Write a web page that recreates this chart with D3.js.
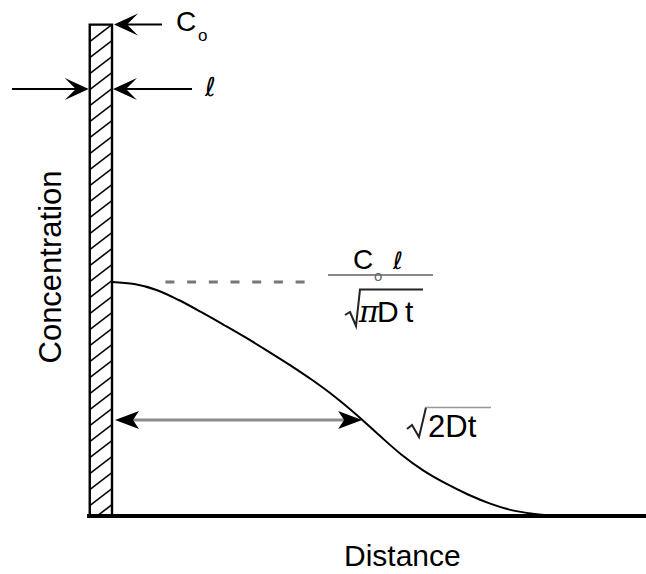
<!DOCTYPE html>
<html><head><meta charset="utf-8">
<script src="https://cdn.jsdelivr.net/npm/d3@7"></script>
<style>body{margin:0;background:#fff}svg{display:block}</style>
</head><body>
<svg id="chart" width="646" height="574"></svg>
<script>
// Thin-film source diffusing into a semi-infinite solid.
// Concentration profile (arbitrary units) against distance from the film.
const distance = [0, 0.5, 1, 1.5, 2, 2.5, 3, 3.5, 4, 4.5, 5, 5.5, 6, 6.5, 7, 7.5, 8, 8.5, 9, 9.5, 10];
const concentration = [1.000, 0.991, 0.966, 0.923, 0.872, 0.818, 0.763, 0.705, 0.645, 0.581, 0.511,
                       0.432, 0.346, 0.263, 0.194, 0.139, 0.092, 0.053, 0.024, 0.009, 0.0];
// Source film: thickness ℓ and initial concentration C0
const filmThickness = [0.5];
const filmConcentration = [2.1];
// Spread marker √(2Dt): distance reached and the level it is drawn at
const spreadDistance = [5.62];
const spreadLevel = [0.41];
// Peak guide line extent (distance)
const peakGuide = [1.2, 4.4];
const axisTitles = ["Distance", "Concentration"];

const svg = d3.select("#chart");
const x = d3.scaleLinear().domain([0, 10]).range([112, 557]);
const y = d3.scaleLinear().domain([0, 1]).range([516, 282]);
const FONT = "'Liberation Sans', Arial, Helvetica, sans-serif";

// arrowhead: tip at (tx,ty), dir = +1 points right, -1 points left
function head(tx, ty, dir, L, W, N) {
  return `M${tx},${ty}L${tx - dir * L},${ty - W}L${tx - dir * N},${ty}L${tx - dir * L},${ty + W}Z`;
}

const filmLeft = x(-filmThickness[0]);
const filmRight = x(0);
const filmTop = y(filmConcentration[0]);
const base = y(0);

// hatched film
svg.append("clipPath").attr("id", "filmClip")
  .append("rect").attr("x", filmLeft).attr("y", filmTop)
  .attr("width", filmRight - filmLeft).attr("height", base - filmTop);
const hatch = svg.append("g").attr("clip-path", "url(#filmClip)");
for (let yy = filmTop - 16; yy < base + 20; yy += 16) {
  hatch.append("line")
    .attr("x1", filmLeft).attr("y1", yy + 17)
    .attr("x2", filmRight).attr("y2", yy)
    .attr("stroke", "#000").attr("stroke-width", 1.6);
}
svg.append("path")
  .attr("d", `M${filmLeft},${base}V${filmTop}H${filmRight}V${base}`)
  .attr("fill", "none").attr("stroke", "#000").attr("stroke-width", 2.4);

// distance axis (baseline)
const xAxis = d3.axisBottom(x).tickValues([]).tickSizeOuter(0);
const ax = svg.append("g").attr("transform", `translate(0,${base})`).call(xAxis);
ax.select(".domain").attr("d", `M${x(-0.56)},0H646`).attr("stroke", "#000").attr("stroke-width", 4);

// concentration profile
const pts = distance.map((d, i) => [d, concentration[i]]);
svg.append("path")
  .datum(pts)
  .attr("d", d3.line().x(d => x(d[0])).y(d => y(d[1])).curve(d3.curveMonotoneX))
  .attr("fill", "none").attr("stroke", "#000").attr("stroke-width", 2);

// peak guide (dashed)
svg.append("line")
  .attr("x1", x(peakGuide[0])).attr("x2", x(peakGuide[1]))
  .attr("y1", y(1)).attr("y2", y(1))
  .attr("stroke", "#777").attr("stroke-width", 3).attr("stroke-dasharray", "9,12.7");

// C0 arrow at film top
svg.append("line").attr("x1", filmRight + 10).attr("x2", 162)
  .attr("y1", filmTop).attr("y2", filmTop).attr("stroke", "#000").attr("stroke-width", 2);
svg.append("path").attr("d", head(filmRight + 2, filmTop, -1, 24, 11, 13)).attr("fill", "#000");

// ℓ arrows across the film
const ly = 89;
svg.append("line").attr("x1", 12).attr("x2", filmLeft - 10)
  .attr("y1", ly).attr("y2", ly).attr("stroke", "#000").attr("stroke-width", 2);
svg.append("path").attr("d", head(filmLeft - 1, ly, 1, 24, 11, 13)).attr("fill", "#000");
svg.append("line").attr("x1", filmRight + 10).attr("x2", 192)
  .attr("y1", ly).attr("y2", ly).attr("stroke", "#000").attr("stroke-width", 2);
svg.append("path").attr("d", head(filmRight + 1, ly, -1, 24, 11, 13)).attr("fill", "#000");

// √(2Dt) double arrow
const sy = y(spreadLevel[0]);
svg.append("line").attr("x1", filmRight + 8).attr("x2", x(spreadDistance[0]) - 8)
  .attr("y1", sy).attr("y2", sy).attr("stroke", "#8c8c8c").attr("stroke-width", 3);
svg.append("path").attr("d", head(filmRight + 3, sy, -1, 24, 9, 18)).attr("fill", "#000");
svg.append("path").attr("d", head(x(spreadDistance[0]), sy, 1, 24, 9, 18)).attr("fill", "#000");

// ---- text ----
function txt(xp, yp, s, size, opts = {}) {
  return svg.append("text").attr("x", xp).attr("y", yp).text(s)
    .attr("font-family", opts.family || FONT).attr("font-size", size)
    .attr("font-style", opts.italic ? "italic" : "normal")
    .attr("fill", opts.fill || "#000")
    .attr("text-anchor", opts.anchor || "start");
}
// radical sign stroke with its vinculum
function radical(d, color, w) {
  svg.append("path").attr("d", d).attr("fill", "none")
    .attr("stroke", color).attr("stroke-width", w).attr("stroke-linejoin", "miter");
}

// C0 label
txt(176, 31, "C", 28);
txt(198, 41, "o", 17);
// ℓ label
txt(205, 96, "ℓ", 26, {italic: true, family: "'DejaVu Sans', sans-serif"});

// peak value label C0ℓ / √(πDt)
txt(353, 269, "C", 28);
svg.append("line").attr("x1", 328).attr("x2", 433).attr("y1", 275).attr("y2", 275)
  .attr("stroke", "#888").attr("stroke-width", 2);
txt(374, 281, "o", 15, {fill: "#666"});
txt(393, 269, "ℓ", 24, {italic: true, family: "'DejaVu Sans', sans-serif"});
radical("M345,315L350,312L356,326L360,289.5L423,289.5", "#222", 2);
txt(359, 322, "π", 30, {italic: true, family: "'DejaVu Serif', serif"});
txt(377, 322, "D", 30);
txt(405, 322, "t", 30);

// spread label √(2Dt)
radical("M407,429L412,425L419,437L426,407.5", "#222", 2);
svg.append("line").attr("x1", 426).attr("x2", 491).attr("y1", 407.5).attr("y2", 407.5)
  .attr("stroke", "#999").attr("stroke-width", 1.6);
txt(428, 437, "2Dt", 31);

// axis titles
txt(344, 566, axisTitles[0], 30);
svg.append("text").text(axisTitles[1])
  .attr("transform", "translate(61,267) rotate(-90)")
  .attr("text-anchor", "middle").attr("font-family", FONT).attr("font-size", 31);
</script>
</body></html>
